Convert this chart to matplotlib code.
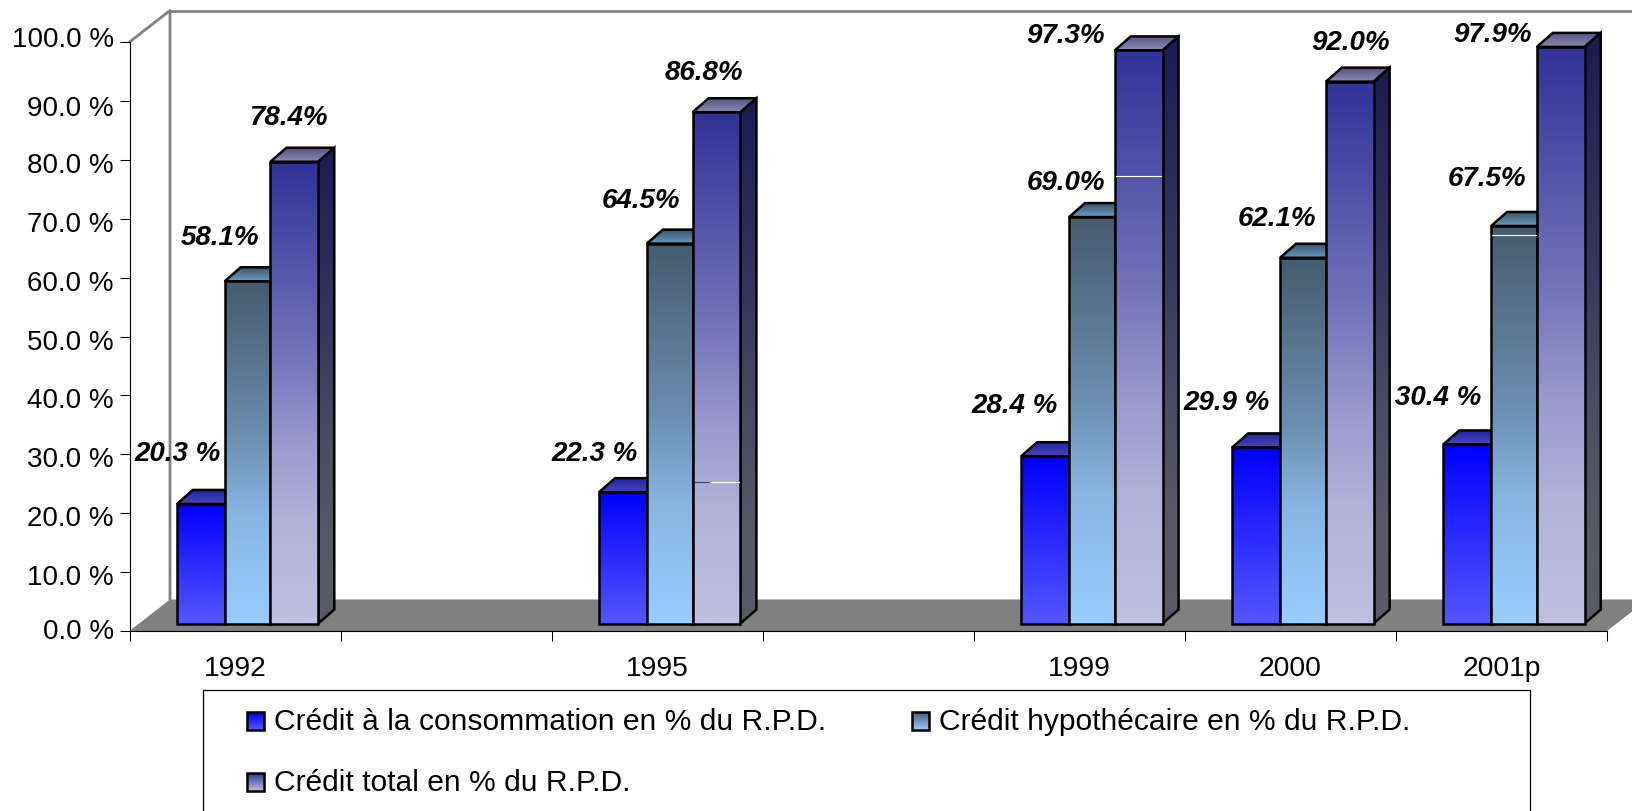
import numpy as np
import matplotlib
matplotlib.use("Agg")
import matplotlib.pyplot as plt
from matplotlib.patches import Polygon, Rectangle
from matplotlib.lines import Line2D
from matplotlib.transforms import Affine2D, IdentityTransform

# ---------- data ----------
categories = ["1992", "1995", "1999", "2000", "2001p"]
category_slots = [0, 2, 4, 5, 6]
consommation = [20.3, 22.3, 28.4, 29.9, 30.4]
hypothecaire = [58.1, 64.5, 69.0, 62.1, 67.5]
total = [78.4, 86.8, 97.3, 92.0, 97.9]
series_names = ["Crédit à la consommation en % du R.P.D.",
                "Crédit hypothécaire en % du R.P.D.",
                "Crédit total en % du R.P.D."]
y_ticks = [0, 10, 20, 30, 40, 50, 60, 70, 80, 90, 100]
# thin white render artefacts seen in the picture: (slot, series index, value, dark share)
artefacts = [(2, 2, 24.1, 0.33), (4, 2, 76.0, 0.0), (6, 1, 66.0, 0.0)]

# ---------- layout ----------
W, H = 1632, 812
FX0, FX1 = 129.5, 1607.0      # front plane x pixels
FY0, FY100 = 632.0, 43.0      # front plane y pixels
BAR_START = 0.2245            # in slots
BAR_WIDTHS = [0.2266, 0.2167, 0.2266]
BAR_EDGES = np.concatenate([[0], np.cumsum(BAR_WIDTHS)])
SLOT_PX = (FX1 - FX0) / 7
VAL_PX = (FY0 - FY100) / 100
BAR_LIFT = 7.5                # bar bases stand above the front edge (px)
BAR_DX, BAR_DY = 16 / SLOT_PX, 14 / VAL_PX
WALL_DX, WALL_DY = 40.5 / SLOT_PX, 31.5 / VAL_PX
GREY = "#808080"
FONT = "Liberation Sans"
S = 1632 / 1568  # label positions were measured on the shrunk view

LINEAR = ([0, 1], [0, 1])
HYPO_CURVE = ([0, 0.45, 0.69, 1], [0, 0.45, 0.8, 1])
TOTAL_CURVE = ([0, 0.43, 0.61, 0.8, 1], [0, 0.48, 0.73, 0.92, 1])
# (top, bottom, curve) colours
FRONT = [("#0000ff", "#5555ff", LINEAR), ("#465c70", "#99ccff", HYPO_CURVE),
         ("#333399", "#bfbfe0", TOTAL_CURVE)]
TOPF = [("#2222aa", "#4848b0", LINEAR), ("#3a566e", "#6a9cc0", LINEAR),
        ("#55558c", "#8c8cac", LINEAR)]
SIDE = [("#101070", "#303080", LINEAR), ("#24384a", "#4c6680", LINEAR),
        ("#1c1c55", "#5c5c68", TOTAL_CURVE)]

# label centres in the shrunk view, per series then category
LABEL_POS = [
    [(171, 436), (571, 436), (975, 390), (1178, 387), (1382, 382)],
    [(211, 229), (616, 193), (1024, 176), (1227, 210), (1429, 172)],
    [(277, 113), (676, 70), (1024, 35), (1298, 41), (1434, 34)],
]
LABEL_FMT = ["{:.1f} %", "{:.1f}%", "{:.1f}%"]
# tick label nudges in pixels (the source's labels sit unevenly on the ticks)
YLABEL_NUDGE = {0: 3, 90: -4, 100: 6}
YLABEL_DEFAULT_NUDGE = -2

fig = plt.figure(figsize=(W / 100, H / 100), dpi=100, facecolor="white")
ax = fig.add_axes([FX0 / W, (H - FY0) / H, (FX1 - FX0) / W, (FY0 - FY100) / H])
ax.set_xlim(0, 7)
ax.set_ylim(0, 100)
ax.patch.set_visible(False)
for s in ("top", "right"):
    ax.spines[s].set_visible(False)
ax.spines["left"].set_linewidth(0.8)
ax.spines["bottom"].set_linewidth(0.8)

ax.set_yticks(y_ticks, [f"{v:.1f} %" for v in y_ticks], family=FONT, fontsize=20)
ax.set_xticks(range(8), [""] * 8)
ax.set_xticks([s + 0.5 for s in category_slots], categories, minor=True,
              family=FONT, fontsize=20.3)
ax.tick_params(axis="both", which="major", length=7.2, width=0.75, pad=4)
ax.tick_params(axis="x", which="minor", length=0, pad=17)
for v, lab in zip(y_ticks, ax.get_yticklabels()):
    lab.set_transform(lab.get_transform()
                      + Affine2D().translate(0, YLABEL_NUDGE.get(v, YLABEL_DEFAULT_NUDGE)))

# floor and back walls
ax.add_patch(Polygon([(0, 0), (WALL_DX, WALL_DY), (7 + WALL_DX, WALL_DY), (7, 0)],
                     closed=True, fc=GREY, ec="none", clip_on=False, zorder=1))
wall_x = [0, WALL_DX, WALL_DX]
wall_y = [100, 100 + WALL_DY, WALL_DY]
ax.add_line(Line2D(wall_x, wall_y, color=GREY, lw=2.0, clip_on=False, zorder=1.5))
ax.add_line(Line2D([WALL_DX, 7.5], [100 + WALL_DY] * 2, color=GREY, lw=2.0,
                   clip_on=False, zorder=1.5))

bar_tr = ax.transData + Affine2D().translate(0, BAR_LIFT)


def gradient(top, bottom, curve=LINEAR):
    c0 = np.array(matplotlib.colors.to_rgb(top))
    c1 = np.array(matplotlib.colors.to_rgb(bottom))
    t = np.interp(np.linspace(0, 1, 48), *curve)[:, None, None]
    return c0 + (c1 - c0) * t


def face(verts, colours, z):
    xs, ys = zip(*verts)
    patch = Polygon(verts, closed=True, fc="none", ec="black", lw=1.8,
                    transform=bar_tr, clip_on=False, zorder=z + 0.1,
                    joinstyle="miter")
    ax.add_patch(patch)
    im = ax.imshow(gradient(*colours), extent=(min(xs), max(xs), min(ys), max(ys)),
                   origin="upper", aspect="auto", interpolation="bilinear",
                   transform=bar_tr, zorder=z)
    im.set_clip_box(fig.bbox)
    im.set_clip_path(patch)
    return im


series = [consommation, hypothecaire, total]
for c, slot in enumerate(category_slots):
    for i, vals in enumerate(series):
        v = vals[c]
        x0 = slot + BAR_START + BAR_EDGES[i]
        x1 = slot + BAR_START + BAR_EDGES[i + 1]
        z = 3 + i
        face([(x1, 0), (x1 + BAR_DX, BAR_DY), (x1 + BAR_DX, v + BAR_DY), (x1, v)],
             SIDE[i], z)
        face([(x0, v), (x1, v), (x1 + BAR_DX, v + BAR_DY), (x0 + BAR_DX, v + BAR_DY)],
             TOPF[i], z)
        face([(x0, 0), (x1, 0), (x1, v), (x0, v)], FRONT[i], z + 0.3)

for slot, i, v, dark in artefacts:
    x0 = slot + BAR_START + BAR_EDGES[i] + 0.006
    x1 = slot + BAR_START + BAR_EDGES[i + 1] - 0.006
    xm = x0 + (x1 - x0) * dark
    ax.add_line(Line2D([xm, x1], [v, v], color="white", lw=0.8,
                       transform=bar_tr, clip_on=False, zorder=7))
    if dark:
        ax.add_line(Line2D([x0, xm], [v, v], color="#34466a", lw=0.8,
                           transform=bar_tr, clip_on=False, zorder=7))

# value labels
for i, vals in enumerate(series):
    for c, v in enumerate(vals):
        px, py = LABEL_POS[i][c]
        fig.text(px * S / W, 1 - py * S / H, LABEL_FMT[i].format(v), ha="center",
                 va="center", family=FONT, fontsize=20, fontweight="bold",
                 fontstyle="italic", color="black", zorder=10)

# legend box runs off the bottom of the picture
fig.add_artist(Rectangle((202.5 / W, -20 / H), (1529.5 - 202.5) / W, (H - 691 + 20) / H,
                         transform=fig.transFigure, fc="white", ec="black", lw=0.9,
                         zorder=0))
LEG = [(247, 713, 274), (912, 713, 939), (247, 774, 274)]
LEG_COL = [("#0000ff", "#5555ff"), ("#465c70", "#99ccff"), ("#333399", "#bfbfe0")]
for (sx, sy, tx), name, col in zip(LEG, series_names, LEG_COL):
    im = ax.imshow(gradient(*col), extent=(sx, sx + 17, H - sy - 18, H - sy), origin="upper",
                   aspect="auto", transform=IdentityTransform(), zorder=8)
    im.set_clip_on(False)
    fig.add_artist(Rectangle((sx / W, (H - sy - 18) / H), 17 / W, 18 / H,
                             transform=fig.transFigure, fc="none", ec="black", lw=1.8,
                             zorder=9))
    fig.text(tx / W, 1 - (sy + 9) / H, name, ha="left", va="center", family=FONT,
             fontsize=21.6, color="black")

fig.savefig("out.png", dpi=100)
